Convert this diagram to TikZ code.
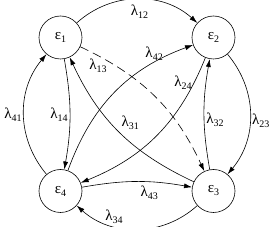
\documentclass[tikz,border=0pt]{standalone}
\usepackage{fontspec}
\setmainfont{Liberation Serif}
\usetikzlibrary{arrows.meta}

\newcommand{\gidx}[2]{#1\raisebox{-3pt}{\fontsize{10}{10}\selectfont #2}}

\tikzset{
  zustand/.style={draw, circle, line width=0.6pt, minimum size=43pt, inner sep=0pt},
  pfeil/.style={line width=0.6pt, -{Latex[length=8pt,width=5pt]}},
  rate/.style={inner sep=2pt}
}

\begin{document}
\begin{tikzpicture}[x=1pt, y=-1pt, font=\fontsize{15}{17}\selectfont]
\useasboundingbox (0,0) rectangle (274,227);

% Zustaende
\node[zustand] (e1) at (60.5,37.5) {\gidx{ε}{1}};
\node[zustand] (e2) at (213.5,37.5) {\gidx{ε}{2}};
\node[zustand] (e3) at (213.5,191) {\gidx{ε}{3}};
\node[zustand] (e4) at (60.5,191) {\gidx{ε}{4}};

% Aussen
\draw[pfeil] (e1) to[bend left=42] node[rate, pos=0.52, below=3pt] {\gidx{λ}{12}} (e2);
\draw[pfeil] (e2) to[bend left=40] node[rate, pos=0.55, right] {\gidx{λ}{23}} (e3);
\draw[pfeil] (e3) to[bend left=42] node[rate, pos=0.68, above] {\gidx{λ}{34}} (e4);
\draw[pfeil] (e4) to[bend left=40] node[rate, midway, left] {\gidx{λ}{41}} (e1);

% Innen
\draw[pfeil] (e1) to[bend left=10] node[rate, midway, left] {\gidx{λ}{14}} (e4);
\draw[pfeil] (e3) to[bend left=10] node[rate, pos=0.45, right] {\gidx{λ}{32}} (e2);
\draw[pfeil] (e4) to[bend left=10] node[rate, pos=0.62, below=2pt] {\gidx{λ}{43}} (e3);

% Diagonalen
\draw[pfeil, dash pattern=on 9pt off 5pt] (e1) to[bend left=20] node[rate, pos=0.1, below=1pt] {\gidx{λ}{13}} (e3);
\draw[pfeil] (e3) to[bend left=20] node[rate, midway, above right] {\gidx{λ}{31}} (e1);
\draw[pfeil] (e4) to[bend left=25] node[rate, pos=0.78, above] {\gidx{λ}{42}} (e2);
\draw[pfeil] (e2) to[bend left=23] node[rate, pos=0.14, left] {\gidx{λ}{24}} (e4);

\end{tikzpicture}
\end{document}
